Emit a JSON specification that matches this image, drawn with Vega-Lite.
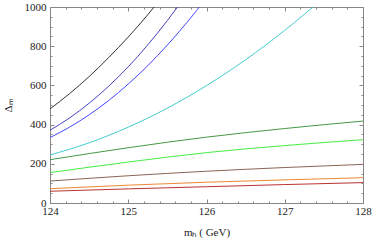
{
  "$schema": "https://vega.github.io/schema/vega-lite/v6.json",
  "width": 313,
  "height": 196,
  "autosize": "none",
  "padding": {"left": 50, "top": 7, "right": 11, "bottom": 39},
  "config": {
    "view": {"stroke": "#888888", "strokeWidth": 1},
    "font": "Liberation Serif",
    "axis": {"labelFont": "Liberation Serif", "titleFont": "Liberation Serif", "labelFontSize": 11, "titleFontSize": 11, "labelColor": "#222222", "titleColor": "#222222", "titleFontWeight": "normal", "domainColor": "#888888", "tickColor": "#888888", "grid": false, "labelOverlap": false}
  },
  "datasets": {
    "curves": [
      {"s": "a", "m": 124, "v": 480}, {"s": "a", "m": 124.25, "v": 558}, {"s": "a", "m": 124.5, "v": 645}, {"s": "a", "m": 124.75, "v": 742}, {"s": "a", "m": 125, "v": 847}, {"s": "a", "m": 125.25, "v": 961}, {"s": "a", "m": 125.5, "v": 1085},
      {"s": "b", "m": 124, "v": 371}, {"s": "b", "m": 124.25, "v": 434}, {"s": "b", "m": 124.5, "v": 509}, {"s": "b", "m": 124.75, "v": 596}, {"s": "b", "m": 125, "v": 695}, {"s": "b", "m": 125.25, "v": 807}, {"s": "b", "m": 125.5, "v": 931}, {"s": "b", "m": 125.75, "v": 1067},
      {"s": "c", "m": 124, "v": 334}, {"s": "c", "m": 124.25, "v": 387}, {"s": "c", "m": 124.5, "v": 450}, {"s": "c", "m": 124.75, "v": 523}, {"s": "c", "m": 125, "v": 607}, {"s": "c", "m": 125.25, "v": 701}, {"s": "c", "m": 125.5, "v": 806}, {"s": "c", "m": 125.75, "v": 921}, {"s": "c", "m": 126, "v": 1046},
      {"s": "d", "m": 124, "v": 245}, {"s": "d", "m": 124.5, "v": 307}, {"s": "d", "m": 125, "v": 387}, {"s": "d", "m": 125.5, "v": 484}, {"s": "d", "m": 126, "v": 599}, {"s": "d", "m": 126.5, "v": 731}, {"s": "d", "m": 127, "v": 881}, {"s": "d", "m": 127.5, "v": 1048},
      {"s": "e", "m": 124, "v": 221}, {"s": "e", "m": 125, "v": 282}, {"s": "e", "m": 126, "v": 336}, {"s": "e", "m": 127, "v": 380}, {"s": "e", "m": 128, "v": 418},
      {"s": "f", "m": 124, "v": 155}, {"s": "f", "m": 125, "v": 209}, {"s": "f", "m": 126, "v": 257}, {"s": "f", "m": 127, "v": 293}, {"s": "f", "m": 128, "v": 323},
      {"s": "g", "m": 124, "v": 112}, {"s": "g", "m": 125, "v": 139}, {"s": "g", "m": 126, "v": 162}, {"s": "g", "m": 127, "v": 181}, {"s": "g", "m": 128, "v": 197},
      {"s": "h", "m": 124, "v": 73}, {"s": "h", "m": 125, "v": 91}, {"s": "h", "m": 126, "v": 106}, {"s": "h", "m": 127, "v": 118}, {"s": "h", "m": 128, "v": 129},
      {"s": "i", "m": 124, "v": 60}, {"s": "i", "m": 125, "v": 72}, {"s": "i", "m": 126, "v": 83}, {"s": "i", "m": 127, "v": 94}, {"s": "i", "m": 128, "v": 104}
    ]
  },
  "data": {"name": "curves"},
  "layer": [
    {
      "mark": {"type": "line", "clip": true, "strokeWidth": 1, "interpolate": "monotone"},
      "encoding": {
        "x": {"field": "m", "type": "quantitative", "scale": {"domain": [124, 128], "nice": false, "zero": false},
          "axis": {"orient": "bottom", "title": "mₕ ( GeV)", "titlePadding": 8,
            "values": [124, 124.2, 124.4, 124.6, 124.8, 125, 125.2, 125.4, 125.6, 125.8, 126, 126.2, 126.4, 126.6, 126.8, 127, 127.2, 127.4, 127.6, 127.8, 128],
            "labelExpr": "datum.value % 1 === 0 ? '' + datum.value : ''",
            "tickSize": {"condition": {"test": "datum.value % 1 === 0", "value": -4}, "value": -2},
            "labelPadding": 6, "labelFlush": false}},
        "y": {"field": "v", "type": "quantitative", "scale": {"domain": [0, 1000], "nice": false},
          "axis": {"orient": "left", "title": "Δₘ", "titlePadding": 11,
            "values": [0, 50, 100, 150, 200, 250, 300, 350, 400, 450, 500, 550, 600, 650, 700, 750, 800, 850, 900, 950, 1000],
            "labelExpr": "datum.value % 200 === 0 ? '' + datum.value : ''",
            "tickSize": {"condition": {"test": "datum.value % 200 === 0", "value": -4}, "value": -2},
            "labelPadding": 8, "labelFlush": false}},
        "color": {"field": "s", "type": "nominal", "legend": null,
          "scale": {"domain": ["a", "b", "c", "d", "e", "f", "g", "h", "i"],
            "range": ["#333333", "#4444bb", "#4444ff", "#44cccc", "#449944", "#44ee44", "#886655", "#ee8833", "#bb3333"]}}
      }
    },
    {
      "mark": {"type": "line", "opacity": 0, "clip": true},
      "encoding": {
        "x": {"field": "m", "type": "quantitative", "scale": {"domain": [124, 128], "nice": false, "zero": false},
          "axis": {"orient": "top", "title": null, "labels": false,
            "values": [124, 124.2, 124.4, 124.6, 124.8, 125, 125.2, 125.4, 125.6, 125.8, 126, 126.2, 126.4, 126.6, 126.8, 127, 127.2, 127.4, 127.6, 127.8, 128],
            "tickSize": {"condition": {"test": "datum.value % 1 === 0", "value": -4}, "value": -2}}},
        "y": {"field": "v", "type": "quantitative", "scale": {"domain": [0, 1000], "nice": false},
          "axis": {"orient": "right", "title": null, "labels": false,
            "values": [0, 50, 100, 150, 200, 250, 300, 350, 400, 450, 500, 550, 600, 650, 700, 750, 800, 850, 900, 950, 1000],
            "tickSize": {"condition": {"test": "datum.value % 200 === 0", "value": -4}, "value": -2}}},
        "detail": {"field": "s", "type": "nominal"}
      }
    }
  ],
  "resolve": {"axis": {"x": "independent", "y": "independent"}}
}
